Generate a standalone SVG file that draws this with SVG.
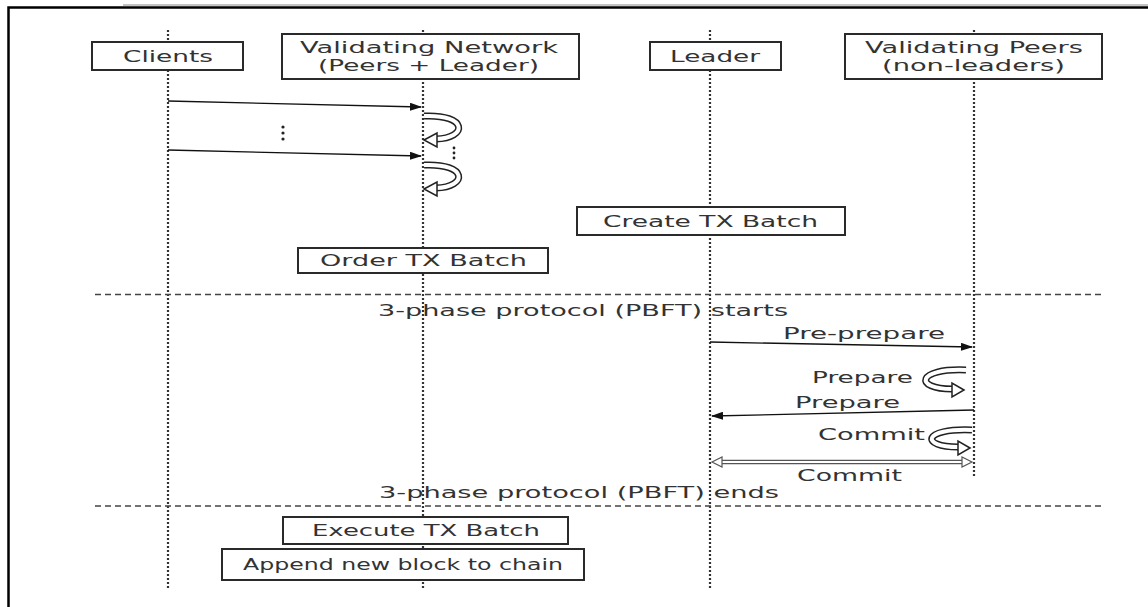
<svg xmlns="http://www.w3.org/2000/svg" width="1148" height="607" viewBox="0 0 1148 607">
<defs>
<style>
.lbl{font-family:"DejaVu Sans","Noto Sans",sans-serif;font-size:15px;fill:#333;}
.box{fill:#fff;stroke:#2a2a2a;stroke-width:2;}
.life{stroke:#333;stroke-width:2.2;stroke-dasharray:2,2;fill:none;}
.sep{stroke:#444;stroke-width:1.5;stroke-dasharray:6,4;fill:none;}
.msg{stroke:#111;stroke-width:1.3;fill:none;}
.loopo{stroke:#222;stroke-width:7;fill:none;}
.loopi{stroke:#fff;stroke-width:4;fill:none;}
.head{fill:#fff;stroke:#222;stroke-width:1.5;stroke-linejoin:miter;}
</style>
<marker id="arr" markerWidth="12" markerHeight="8" refX="11" refY="4" orient="auto" markerUnits="userSpaceOnUse">
<path d="M0,0 L12,4 L0,8 z" fill="#111"/>
</marker>
</defs>
<rect width="1148" height="607" fill="#fff"/>
<line x1="123" y1="5" x2="1148" y2="5" stroke="#888" stroke-width="1"/>
<polyline points="8.5,607 8.5,7.5 1148,7.5" fill="none" stroke="#000" stroke-width="2.5"/>

<g id="lifelines">
<line class="life" x1="168" y1="30" x2="168" y2="590"/>
<line class="life" x1="423" y1="30" x2="423" y2="590"/>
<line class="life" x1="710" y1="30" x2="710" y2="590"/>
<line class="life" x1="974" y1="30" x2="974" y2="478"/>
</g>

<g id="separators">
<line class="sep" x1="95" y1="294.5" x2="1104" y2="294.5"/>
<line class="sep" x1="95" y1="506" x2="1104" y2="506"/>
<text class="lbl" x="378" y="316" textLength="410" lengthAdjust="spacingAndGlyphs">3-phase protocol (PBFT) starts</text>
<text class="lbl" x="379" y="498" textLength="400" lengthAdjust="spacingAndGlyphs">3-phase protocol (PBFT) ends</text>
</g>

<g id="clients">
<rect class="box" x="92" y="42" width="151" height="28"/>
<text class="lbl" x="123" y="62" textLength="90" lengthAdjust="spacingAndGlyphs">Clients</text>
</g>
<g id="validating-network">
<rect class="box" x="282" y="34" width="297" height="45"/>
<text class="lbl" x="300" y="53" textLength="258" lengthAdjust="spacingAndGlyphs">Validating Network</text>
<text class="lbl" x="318" y="71" textLength="221" lengthAdjust="spacingAndGlyphs">(Peers + Leader)</text>
</g>
<g id="leader">
<rect class="box" x="650" y="42" width="131" height="28"/>
<text class="lbl" x="670" y="62" textLength="90" lengthAdjust="spacingAndGlyphs">Leader</text>
</g>
<g id="validating-peers">
<rect class="box" x="845" y="34" width="257" height="45"/>
<text class="lbl" x="865" y="53" textLength="218" lengthAdjust="spacingAndGlyphs">Validating Peers</text>
<text class="lbl" x="882" y="71" textLength="183" lengthAdjust="spacingAndGlyphs">(non-leaders)</text>
</g>
<g id="create-tx-batch">
<rect class="box" x="577" y="207" width="268" height="28"/>
<text class="lbl" x="603" y="227" textLength="215" lengthAdjust="spacingAndGlyphs">Create TX Batch</text>
</g>
<g id="order-tx-batch">
<rect class="box" x="298" y="248" width="250" height="25"/>
<text class="lbl" x="320" y="266" textLength="207" lengthAdjust="spacingAndGlyphs">Order TX Batch</text>
</g>
<g id="execute-tx-batch">
<rect class="box" x="283" y="517" width="285" height="27"/>
<text class="lbl" x="312" y="536" textLength="228" lengthAdjust="spacingAndGlyphs">Execute TX Batch</text>
</g>
<g id="append-block">
<rect class="box" x="222" y="549" width="362" height="31"/>
<text class="lbl" x="243" y="570" textLength="320" lengthAdjust="spacingAndGlyphs">Append new block to chain</text>
</g>

<g id="connectors">
<line class="msg" x1="168" y1="101" x2="421" y2="107" marker-end="url(#arr)"/>
<line class="msg" x1="168" y1="150" x2="421" y2="156" marker-end="url(#arr)"/>
<g fill="#222">
<circle cx="283" cy="127" r="1.6"/><circle cx="283" cy="133" r="1.6"/><circle cx="283" cy="139" r="1.6"/>
<circle cx="454" cy="148" r="1.4"/><circle cx="454" cy="153" r="1.4"/><circle cx="454" cy="158" r="1.4"/>
</g>
<path class="loopo" d="M424,116 C468,114 468,138 436,139"/>
<path class="loopi" d="M424,116 C468,114 468,138 436,139"/>
<polygon class="head" points="424,140 437,133 437,147"/>
<path class="loopo" d="M424,165 C468,163 468,187 436,188"/>
<path class="loopi" d="M424,165 C468,163 468,187 436,188"/>
<polygon class="head" points="424,189 437,182 437,196"/>

<line class="msg" x1="710" y1="342" x2="972" y2="347" marker-end="url(#arr)"/>
<text class="lbl" x="783" y="339" textLength="162" lengthAdjust="spacingAndGlyphs">Pre-prepare</text>
<text class="lbl" x="812" y="383" textLength="101" lengthAdjust="spacingAndGlyphs">Prepare</text>
<path class="loopo" d="M966,370 C916,368 914,389 952,389"/>
<path class="loopi" d="M966,370 C916,368 914,389 952,389"/>
<polygon class="head" points="964,390 952,383 952,397"/>
<line class="msg" x1="974" y1="410" x2="712" y2="416" marker-end="url(#arr)"/>
<text class="lbl" x="795" y="408" textLength="105" lengthAdjust="spacingAndGlyphs">Prepare</text>
<text class="lbl" x="818" y="440" textLength="107" lengthAdjust="spacingAndGlyphs">Commit</text>
<path class="loopo" d="M972,430 C922,428 920,447 958,447"/>
<path class="loopi" d="M972,430 C922,428 920,447 958,447"/>
<polygon class="head" points="970,448 958,441 958,455"/>
<line x1="720" y1="462" x2="964" y2="462" stroke="#555" stroke-width="4.5"/>
<line x1="719" y1="462" x2="965" y2="462" stroke="#fff" stroke-width="2"/>
<polygon points="712,462 722,457 722,467" fill="#fff" stroke="#555" stroke-width="1.2"/>
<polygon points="972,462 962,457 962,467" fill="#fff" stroke="#555" stroke-width="1.2"/>
<text class="lbl" x="797" y="481" textLength="105" lengthAdjust="spacingAndGlyphs">Commit</text>
</g>
</svg>
